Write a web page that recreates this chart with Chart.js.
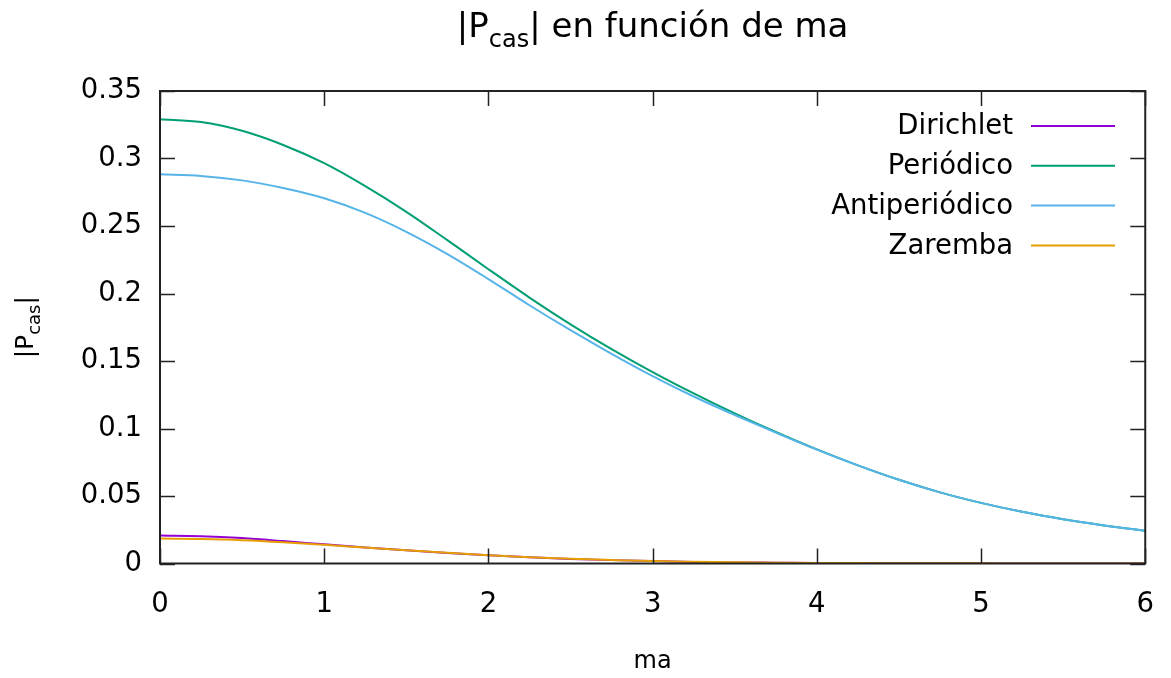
<!DOCTYPE html>
<html>
<head>
<meta charset="utf-8">
<script src="https://cdn.jsdelivr.net/npm/chart.js@4.4.1/dist/chart.umd.min.js"></script>
<style>
  html, body { margin: 0; padding: 0; background: #fff; }
  #wrap { width: 1171px; height: 678px; }
</style>
</head>
<body>
<div id="wrap"><canvas id="casimirChart"></canvas></div>
<script>
// valores de ma (eje x)
const maValues = [0, 0.25, 0.5, 0.75, 1, 1.25, 1.5, 1.75, 2, 2.25, 2.5, 2.75, 3,
  3.25, 3.5, 3.75, 4, 4.25, 4.5, 4.75, 5, 5.25, 5.5, 5.75, 6];

// |Pcas| para cada condición de contorno
const dirichlet = [0.0207, 0.0202, 0.0188, 0.0166, 0.0142, 0.0119, 0.0098, 0.0078, 0.0061,
  0.0046, 0.0034, 0.0025, 0.0018, 0.0012, 0.0008, 0.0006, 0.0004, 0.0003, 0.0002,
  0.00015, 0.0001, 0.00007, 0.00005, 0.00003, 0.00002];
const periodico = [0.329, 0.327, 0.3205, 0.310, 0.2965, 0.2795, 0.2605, 0.2395, 0.218,
  0.197, 0.1772, 0.1588, 0.1418, 0.126, 0.1112, 0.0974, 0.0845, 0.0727, 0.062,
  0.0527, 0.0449, 0.0383, 0.0328, 0.0282, 0.0243];
const antiperiodico = [0.2883, 0.2871, 0.2838, 0.2781, 0.2705, 0.2597, 0.2457, 0.2292, 0.2107,
  0.1913, 0.1728, 0.1553, 0.1388, 0.1237, 0.1100, 0.0969, 0.0844, 0.0727, 0.062,
  0.0527, 0.0449, 0.0383, 0.0328, 0.0282, 0.0243];
const zaremba = [0.0185, 0.0181, 0.0172, 0.0157, 0.0138, 0.0118, 0.0098, 0.0079, 0.0062,
  0.0047, 0.0035, 0.0026, 0.0018, 0.0013, 0.0009, 0.0006, 0.0004, 0.0003, 0.0002,
  0.00015, 0.0001, 0.00007, 0.00005, 0.00003, 0.00002];

const labels = ['Dirichlet', 'Periódico', 'Antiperiódico', 'Zaremba'];
const colors = ['#9400d3', '#009e73', '#56b4e9', '#e69f00'];
const series = [dirichlet, periodico, antiperiodico, zaremba];

const FONT = '"DejaVu Sans", Verdana, sans-serif';

const toPoints = (vals) => vals.map((v, i) => ({ x: maValues[i], y: v }));

// texto con subíndice: partes [texto, esSub]
function drawRich(ctx, parts, x, y, size, subSize, align) {
  ctx.textBaseline = 'alphabetic';
  ctx.textAlign = 'left';
  let total = 0;
  parts.forEach(p => {
    ctx.font = (p[1] ? subSize : size) + 'px ' + FONT;
    total += ctx.measureText(p[0]).width;
  });
  let cx = align === 'center' ? x - total / 2 : x;
  parts.forEach(p => {
    ctx.font = (p[1] ? subSize : size) + 'px ' + FONT;
    ctx.fillText(p[0], cx, p[1] ? y + size * 0.28 : y);
    cx += ctx.measureText(p[0]).width;
  });
}

// marco estilo gnuplot, ticks hacia dentro, leyenda y textos
const gnuplotFrame = {
  id: 'gnuplotFrame',
  afterDatasetsDraw(chart) {
    const { ctx, chartArea: a, scales } = chart;
    const x = scales.x, y = scales.y;
    ctx.save();
    ctx.strokeStyle = '#222';
    ctx.lineWidth = 1.5;
    ctx.beginPath();
    x.ticks.forEach(t => {
      const px = Math.round(x.getPixelForValue(t.value)) + 0.5;
      ctx.moveTo(px, a.bottom); ctx.lineTo(px, a.bottom - 15);
      ctx.moveTo(px, a.top); ctx.lineTo(px, a.top + 15);
    });
    y.ticks.forEach(t => {
      const py = Math.round(y.getPixelForValue(t.value)) + 0.5;
      ctx.moveTo(a.left, py); ctx.lineTo(a.left + 15, py);
      ctx.moveTo(a.right, py); ctx.lineTo(a.right - 15, py);
    });
    ctx.stroke();
    ctx.lineWidth = 2;
    ctx.strokeRect(a.left, a.top, a.right - a.left, a.bottom - a.top);

    // leyenda (texto a la izquierda, muestra de línea a la derecha)
    ctx.font = '27.5px ' + FONT;
    ctx.textAlign = 'right';
    ctx.textBaseline = 'middle';
    chart.data.datasets.forEach((ds, i) => {
      const ly = 126 + i * 39.8;
      ctx.fillStyle = '#000';
      ctx.fillText(ds.label, 1013, ly + 1);
      ctx.strokeStyle = ds.borderColor;
      ctx.lineWidth = 2;
      ctx.beginPath();
      ctx.moveTo(1031, ly); ctx.lineTo(1115, ly);
      ctx.stroke();
    });

    // título y etiquetas de ejes
    ctx.fillStyle = '#000';
    const cx = (a.left + a.right) / 2;
    drawRich(ctx, [['|P', false], ['cas', true], ['| en función de ma', false]], cx, 37, 34, 24, 'center');
    ctx.font = '24px ' + FONT;
    ctx.textAlign = 'center';
    ctx.textBaseline = 'alphabetic';
    ctx.fillText('ma', cx, 668);
    ctx.translate(33, (a.top + a.bottom) / 2);
    ctx.rotate(-Math.PI / 2);
    drawRich(ctx, [['|P', false], ['cas', true], ['|', false]], 0, 0, 25, 18, 'center');
    ctx.restore();
  }
};

const ctx = document.getElementById('casimirChart').getContext('2d');
window.myChart = new Chart(ctx, {
  type: 'line',
  data: {
    datasets: series.map((vals, i) => ({
      label: labels[i],
      data: toPoints(vals),
      borderColor: colors[i],
      backgroundColor: colors[i],
      borderWidth: 2,
      pointRadius: 0,
      fill: false,
      cubicInterpolationMode: 'monotone',
      order: 4 - i,
    })),
  },
  options: {
    responsive: true,
    maintainAspectRatio: false,
    animation: false,
    layout: { padding: { top: 91, right: 15, left: 0, bottom: 0 } },
    plugins: {
      legend: { display: false },
      title: { display: false },
      tooltip: { enabled: false },
    },
    scales: {
      x: {
        type: 'linear',
        min: 0,
        max: 6,
        ticks: { stepSize: 1, padding: 17, color: '#000', font: { family: FONT, size: 27.5 } },
        grid: { display: false },
        border: { display: false },
        afterFit: (s) => { s.height = 114.5; },
      },
      y: {
        min: 0,
        max: 0.35,
        ticks: {
          stepSize: 0.05,
          padding: 10,
          color: '#000',
          font: { family: FONT, size: 27.5 },
          callback: (v) => String(Math.round(v * 100) / 100),
        },
        grid: { display: false },
        border: { display: false },
        afterFit: (s) => { s.width = 160; },
      },
    },
  },
  plugins: [gnuplotFrame],
});
</script>
</body>
</html>
